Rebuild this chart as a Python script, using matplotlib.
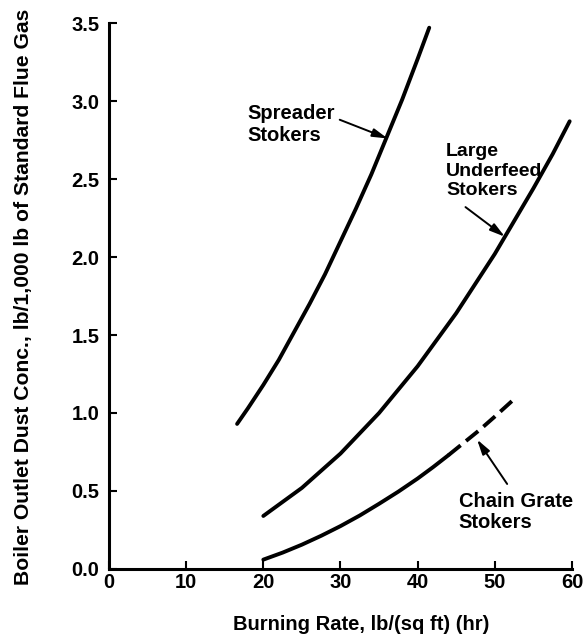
import matplotlib
matplotlib.use("Agg")
import matplotlib.pyplot as plt

plt.rcParams['font.family'] = ['Liberation Sans', 'DejaVu Sans']
plt.rcParams['font.weight'] = 'bold'

# Kurvepunkter
spreader_x = [16.6, 18, 20, 22, 24, 26, 28, 30, 32, 34, 36, 38, 40, 41.5]
spreader_y = [0.93, 1.03, 1.18, 1.34, 1.52, 1.70, 1.89, 2.10, 2.31, 2.53, 2.77, 3.01, 3.27, 3.47]

underfeed_x = [20, 22.5, 25, 27.5, 30, 32.5, 35, 37.5, 40, 42.5, 45, 47.5, 50, 52.5, 55, 57.5, 59.7]
underfeed_y = [0.34, 0.43, 0.52, 0.63, 0.74, 0.87, 1.00, 1.15, 1.30, 1.47, 1.64, 1.83, 2.02, 2.23, 2.44, 2.66, 2.87]

chain_x = [20, 22.5, 25, 27.5, 30, 32.5, 35, 37.5, 40, 42, 44]
chain_y = [0.06, 0.105, 0.156, 0.213, 0.275, 0.343, 0.418, 0.496, 0.58, 0.653, 0.73]
chain_dash_x = [44, 46, 48, 50, 52.3]
chain_dash_y = [0.73, 0.81, 0.89, 0.977, 1.08]

x_ticks = [0, 10, 20, 30, 40, 50, 60]
y_ticks = [0.0, 0.5, 1.0, 1.5, 2.0, 2.5, 3.0, 3.5]

fig = plt.figure(figsize=(5.87, 6.43), dpi=100)
ax = fig.add_axes([0.1857, 0.1151, 0.7887, 0.8491])

lw = 2.8
ax.plot(spreader_x, spreader_y, color='black', lw=lw, solid_capstyle='round', solid_joinstyle='round')
ax.plot(underfeed_x, underfeed_y, color='black', lw=lw, solid_capstyle='round', solid_joinstyle='round')
ax.plot(chain_x, chain_y, color='black', lw=lw, solid_capstyle='round', solid_joinstyle='round')
ax.plot(chain_dash_x, chain_dash_y, color='black', lw=lw, linestyle=(0, (4, 1.8)))

fs = 14.5
ax.text(17.9, 2.85, "Spreader\nStokers", fontsize=fs, ha='left', va='center', linespacing=1.15)
ax.text(43.7, 2.55, "Large\nUnderfeed\nStokers", fontsize=14, ha='left', va='center', linespacing=1.2)
ax.text(45.3, 0.365, "Chain Grate\nStokers", fontsize=fs, ha='left', va='center', linespacing=1.15)

arrow = dict(arrowstyle='-|>,head_length=0.9,head_width=0.25', color='black', lw=1.4,
             mutation_scale=10, shrinkA=0, shrinkB=0)
ax.annotate("", xy=(36.1, 2.76), xytext=(29.9, 2.88), arrowprops=arrow)
ax.annotate("", xy=(51.3, 2.13), xytext=(46.2, 2.32), arrowprops=arrow)
ax.annotate("", xy=(47.7, 0.83), xytext=(51.6, 0.545), arrowprops=arrow)

ax.set_xlim(0, 60)
ax.set_ylim(0, 3.5)
ax.set_xticks(x_ticks)
ax.set_yticks(y_ticks)
ax.set_yticklabels([f"{v:.1f}" for v in y_ticks])
ax.tick_params(direction='in', length=6, width=1.5, labelsize=fs)
ax.tick_params(axis='x', pad=3)
ax.tick_params(axis='y', pad=7)

for side in ['top', 'right']:
    ax.spines[side].set_visible(False)
for side in ['left', 'bottom']:
    ax.spines[side].set_linewidth(2.2)

ax.set_xlabel("Burning Rate, lb/(sq ft) (hr)", fontsize=fs, fontweight='bold')
ax.set_ylabel("Boiler Outlet Dust Conc., lb/1,000 lb of Standard Flue Gas", fontsize=15.2, fontweight='bold')
ax.xaxis.set_label_coords(0.544, -0.084)
ax.yaxis.set_label_coords(-0.165, 0.498)

fig.savefig("out.png", dpi=100)
